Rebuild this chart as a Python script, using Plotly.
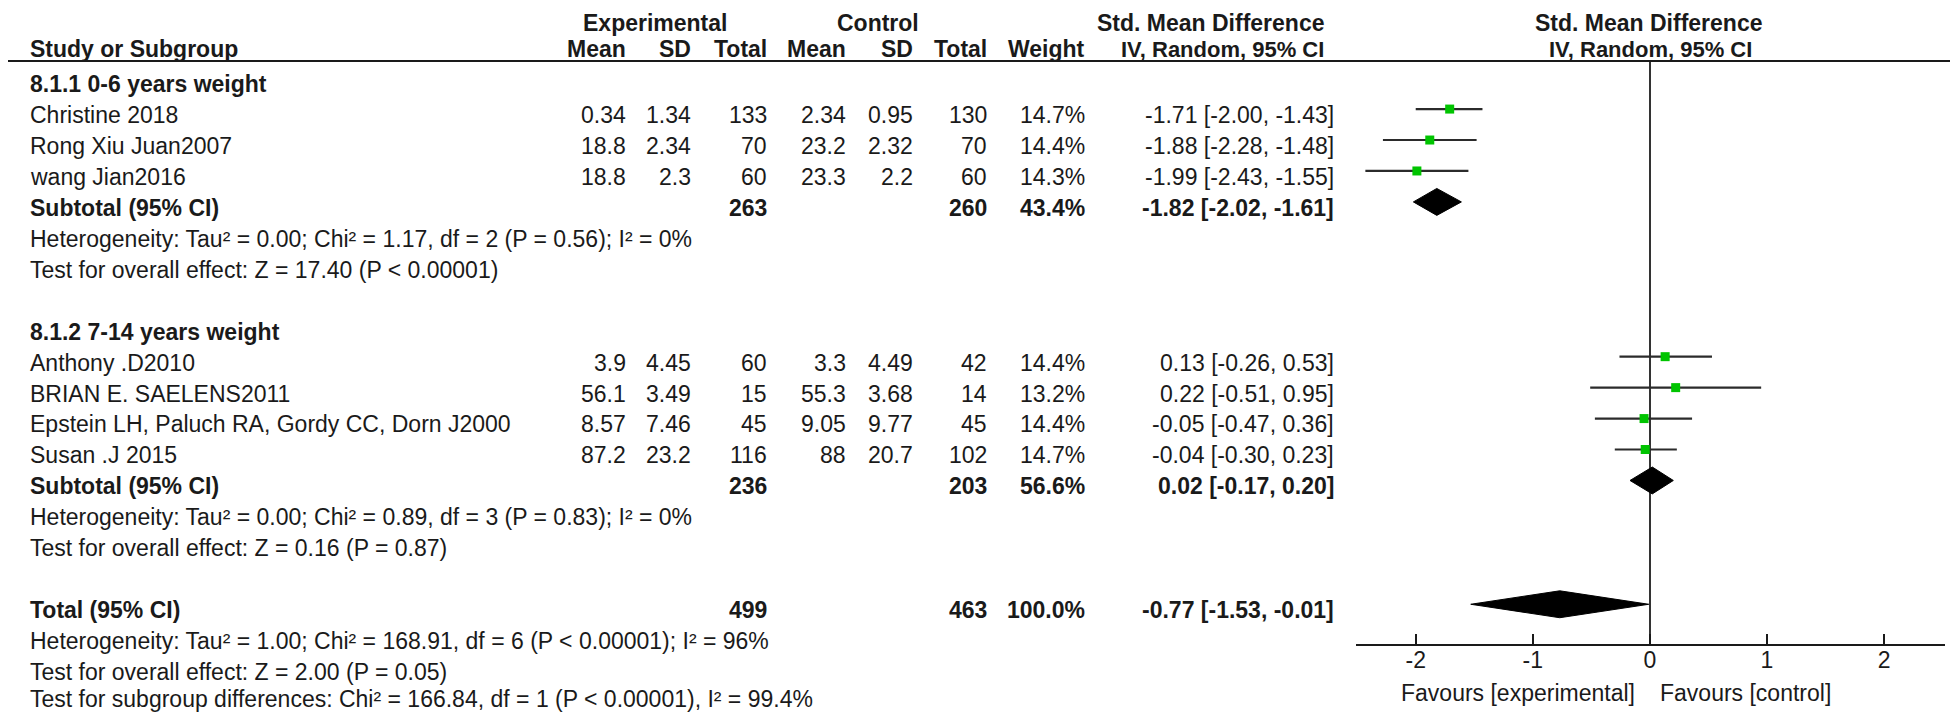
import plotly.graph_objects as go

# ---- data ----
group_names = ["8.1.1 0-6 years weight", "8.1.2 7-14 years weight"]
studies = ["Christine 2018", "Rong Xiu Juan2007", "wang Jian2016",
           "Anthony .D2010", "BRIAN E. SAELENS2011",
           "Epstein LH, Paluch RA, Gordy CC, Dorn J2000", "Susan .J 2015"]
study_group = [0, 0, 0, 1, 1, 1, 1]
exp_mean = ["0.34", "18.8", "18.8", "3.9", "56.1", "8.57", "87.2"]
exp_sd = ["1.34", "2.34", "2.3", "4.45", "3.49", "7.46", "23.2"]
exp_n = [133, 70, 60, 60, 15, 45, 116]
ctrl_mean = ["2.34", "23.2", "23.3", "3.3", "55.3", "9.05", "88"]
ctrl_sd = ["0.95", "2.32", "2.2", "4.49", "3.68", "9.77", "20.7"]
ctrl_n = [130, 70, 60, 42, 14, 45, 102]
weight = [14.7, 14.4, 14.3, 14.4, 13.2, 14.4, 14.7]
smd = [-1.71, -1.88, -1.99, 0.13, 0.22, -0.05, -0.04]
smd_lo = [-2.00, -2.28, -2.43, -0.26, -0.51, -0.47, -0.30]
smd_hi = [-1.43, -1.48, -1.55, 0.53, 0.95, 0.36, 0.23]

sub_exp_n = [263, 236]
sub_ctrl_n = [260, 203]
sub_weight = [43.4, 56.6]
sub_smd = [-1.82, 0.02]
sub_lo = [-2.02, -0.17]
sub_hi = [-1.61, 0.20]
sub_het = ["Heterogeneity: Tau² = 0.00; Chi² = 1.17, df = 2 (P = 0.56); I² = 0%",
           "Heterogeneity: Tau² = 0.00; Chi² = 0.89, df = 3 (P = 0.83); I² = 0%"]
sub_test = ["Test for overall effect: Z = 17.40 (P < 0.00001)",
            "Test for overall effect: Z = 0.16 (P = 0.87)"]

tot_exp_n = 499
tot_ctrl_n = 463
tot_weight = 100.0
tot_smd = -0.77
tot_lo = -1.53
tot_hi = -0.01
tot_notes = ["Heterogeneity: Tau² = 1.00; Chi² = 168.91, df = 6 (P < 0.00001); I² = 96%",
             "Test for overall effect: Z = 2.00 (P = 0.05)",
             "Test for subgroup differences: Chi² = 166.84, df = 1 (P < 0.00001), I² = 99.4%"]

x_ticks = [-2, -1, 0, 1, 2]
x_ticktext = ["-2", "-1", "0", "1", "2"]
fav_left = "Favours [experimental]"
fav_right = "Favours [control]"

# ---- layout helpers ----
W, H = 1958, 712
FONT = "Liberation Sans, Arial, sans-serif"
FS = 23
TXT = "#1a1a1a"
ROW0, ROWH = 76, 30.95          # pixel centre of first row, row pitch
MARK_OFF = -0.19                 # markers sit slightly above the text centre
AXIS_PX, HEAD_LINE_PX = 636, 53
LEFT = 22


def row_at(px):
    return (px - ROW0) / ROWH


# column right edges (px)
COLS = {"emean": 618, "esd": 683, "en": 759, "cmean": 838, "csd": 905,
        "cn": 979, "w": 1077, "ci": 1326}

annotations = []


def put(text, px_x, row, anchor="right", bold=False, size=FS):
    if bold:
        text = "<b>" + text + "</b>"
    annotations.append(dict(text=text, x=px_x / W, xref="paper", y=row, yref="y",
                            xanchor=anchor, yanchor="middle", showarrow=False,
                            borderpad=0, borderwidth=0,
                            font=dict(family=FONT, size=size, color=TXT)))


def ci_text(m, lo, hi):
    return f"{m:.2f} [{lo:.2f}, {hi:.2f}]"


# headers
H1, H2 = row_at(15), row_at(41)
put("Experimental", 647, H1, "center", True)
put("Control", 870, H1, "center", True)
put("Std. Mean Difference", 1317, H1, "right", True)
put("Std. Mean Difference", 1641, H1, "center", True)
put("Study or Subgroup", LEFT, H2, "left", True)
for key, lab in [("emean", "Mean"), ("esd", "SD"), ("en", "Total"), ("cmean", "Mean"),
                 ("csd", "SD"), ("cn", "Total"), ("w", "Weight")]:
    put(lab, COLS[key], H2, "right", True)
put("IV, Random, 95% CI", 1316, H2, "right", True, 22)
put("IV, Random, 95% CI", 1642, H2, "center", True, 22)

# rows
study_rows, sub_rows = [], []
r = 0
for g, gname in enumerate(group_names):
    put(gname, LEFT, r, "left", True)
    r += 1
    for i, s in enumerate(studies):
        if study_group[i] != g:
            continue
        put(s, LEFT, r, "left")
        put(exp_mean[i], COLS["emean"], r)
        put(exp_sd[i], COLS["esd"], r)
        put(str(exp_n[i]), COLS["en"], r)
        put(ctrl_mean[i], COLS["cmean"], r)
        put(ctrl_sd[i], COLS["csd"], r)
        put(str(ctrl_n[i]), COLS["cn"], r)
        put(f"{weight[i]:.1f}%", COLS["w"], r)
        put(ci_text(smd[i], smd_lo[i], smd_hi[i]), COLS["ci"], r)
        study_rows.append(r)
        r += 1
    put("Subtotal (95% CI)", LEFT, r, "left", True)
    put(str(sub_exp_n[g]), COLS["en"], r, bold=True)
    put(str(sub_ctrl_n[g]), COLS["cn"], r, bold=True)
    put(f"{sub_weight[g]:.1f}%", COLS["w"], r, bold=True)
    put(ci_text(sub_smd[g], sub_lo[g], sub_hi[g]), COLS["ci"], r, bold=True)
    sub_rows.append(r)
    put(sub_het[g], LEFT, r + 1, "left")
    put(sub_test[g], LEFT, r + 2, "left")
    r += 4

tot_row = r
put("Total (95% CI)", LEFT, r, "left", True)
put(str(tot_exp_n), COLS["en"], r, bold=True)
put(str(tot_ctrl_n), COLS["cn"], r, bold=True)
put(f"{tot_weight:.1f}%", COLS["w"], r, bold=True)
put(ci_text(tot_smd, tot_lo, tot_hi), COLS["ci"], r, bold=True)
for k, note in enumerate(tot_notes):
    # last line sits right on the bottom edge; keep it just inside
    put(note, LEFT, min(r + 1 + k, row_at(H - 21)), "left")

# favours labels under the axis
for txt, xv, anc in [(fav_left, -0.13, "right"), (fav_right, 0.09, "left")]:
    annotations.append(dict(text=txt, x=xv, xref="x2", y=row_at(685), yref="y",
                            xanchor=anc, yanchor="middle", showarrow=False,
                            borderpad=0, borderwidth=0,
                            font=dict(family=FONT, size=FS, color=TXT)))

fig = go.Figure()

# confidence interval whiskers
for i, rr in enumerate(study_rows):
    fig.add_trace(go.Scatter(x=[smd_lo[i], smd_hi[i]], y=[rr + MARK_OFF] * 2,
                             mode="lines", line=dict(color="#2b2b2b", width=2.2),
                             xaxis="x2", yaxis="y2", hoverinfo="skip", showlegend=False))
# study point estimates
fig.add_trace(go.Scatter(x=smd, y=[rr + MARK_OFF for rr in study_rows], mode="markers",
                         marker=dict(symbol="square", size=9, color="#00c400",
                                     line=dict(width=0)),
                         xaxis="x2", yaxis="y2", showlegend=False))

# diamonds for subtotals and total
DH = 0.435
diamonds = [(sub_smd[g], sub_lo[g], sub_hi[g], sub_rows[g]) for g in range(2)]
diamonds.append((tot_smd, tot_lo, tot_hi, tot_row))
for m, lo, hi, rr in diamonds:
    yc = rr + MARK_OFF
    fig.add_trace(go.Scatter(x=[lo, m, hi, m, lo], y=[yc, yc - DH, yc, yc + DH, yc],
                             mode="lines", fill="toself", fillcolor="black",
                             line=dict(color="black", width=1),
                             xaxis="x2", yaxis="y2", hoverinfo="skip", showlegend=False))

fig.update_layout(
    width=W, height=H,
    margin=dict(l=0, r=0, t=0, b=0),
    paper_bgcolor="white", plot_bgcolor="rgba(0,0,0,0)",
    annotations=annotations,
    shapes=[dict(type="line", xref="paper", yref="paper", x0=0, x1=1,
                 y0=1 - HEAD_LINE_PX / H, y1=1 - HEAD_LINE_PX / H,
                 line=dict(color="#1a1a1a", width=2.2))],
    xaxis=dict(visible=False, range=[0, 1], domain=[0, 1], fixedrange=True),
    yaxis=dict(visible=False, range=[row_at(H), row_at(0)], domain=[0, 1]),
    xaxis2=dict(domain=[1348 / W, 1937 / W], range=[-2.51, 2.52], anchor="y2",
                tickvals=x_ticks, ticktext=x_ticktext, ticks="inside", ticklen=10,
                tickwidth=2, tickcolor="#1a1a1a", showline=True, linecolor="#1a1a1a",
                linewidth=2.2, showgrid=False, zeroline=True, zerolinecolor="#333",
                zerolinewidth=2, tickfont=dict(family=FONT, size=FS, color=TXT),
                ticklabelstandoff=-6),
    yaxis2=dict(domain=[1 - AXIS_PX / H, 1 - HEAD_LINE_PX / H],
                range=[row_at(AXIS_PX), row_at(HEAD_LINE_PX)], visible=False,
                anchor="x2"),
)

fig.write_html("out.html")
